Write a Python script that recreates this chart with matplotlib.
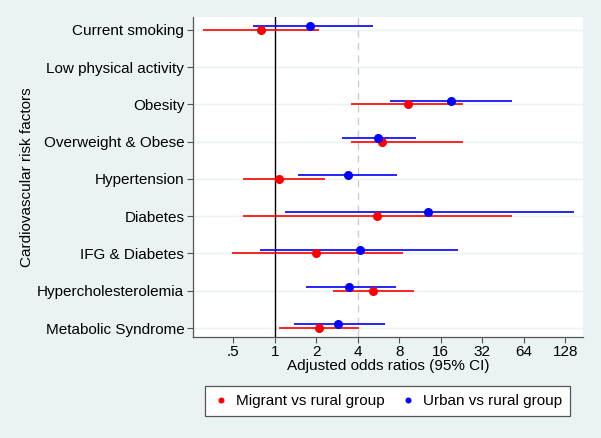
import numpy as np
import matplotlib
matplotlib.use("Agg")
import matplotlib.pyplot as plt

plt.rcParams['font.family'] = ['Liberation Sans', 'DejaVu Sans']

categories = ["Current smoking", "Low physical activity", "Obesity",
              "Overweight & Obese", "Hypertension", "Diabetes",
              "IFG & Diabetes", "Hypercholesterolemia", "Metabolic Syndrome"]

# Migrant vs rural group (NaN = not shown)
migrant_or = [0.79, np.nan, 9.2, 6.0, 1.08, 5.55, 1.98, 5.2, 2.08]
migrant_lo = [0.30, np.nan, 3.56, 3.56, 0.59, 0.59, 0.49, 2.66, 1.08]
migrant_hi = [2.1, np.nan, 23.3, 23.3, 2.32, 52.4, 8.5, 10.3, 4.1]

# Urban vs rural group
urban_or = [1.79, np.nan, 18.9, 5.6, 3.38, 12.9, 4.16, 3.46, 2.88]
urban_lo = [0.69, np.nan, 6.86, 3.06, 1.47, 1.18, 0.78, 1.69, 1.39]
urban_hi = [5.2, np.nan, 52.4, 10.6, 7.74, 149, 21.4, 7.55, 6.28]

xticks = [0.5, 1, 2, 4, 8, 16, 32, 64, 128]
xticklabels = [".5", "1", "2", "4", "8", "16", "32", "64", "128"]

bg = "#eaf2f3"
fs = 11
fig = plt.figure(figsize=(6.01, 4.38), dpi=100, facecolor=bg)
ax = fig.add_axes([0.3206, 0.2306, 0.6494, 0.7313])
ax.set_facecolor("white")

ypos = np.arange(len(categories))[::-1].astype(float)

for y in ypos:
    ax.axhline(y, color=bg, lw=1.0, zorder=0)

ax.axvline(1, color="black", lw=1.0, zorder=1)
ax.axvline(4, color="#cccccc", lw=1.0, ls=(0, (5, 4)), zorder=1)

m_or = np.array(migrant_or); m_lo = np.array(migrant_lo); m_hi = np.array(migrant_hi)
u_or = np.array(urban_or); u_lo = np.array(urban_lo); u_hi = np.array(urban_hi)

ax.hlines(ypos, m_lo, m_hi, color="#ff0000", lw=1.2, zorder=2)
ax.plot(m_or, ypos, "o", color="#ff0000", ms=5.5, zorder=3, label="Migrant vs rural group")
ax.hlines(ypos + 0.1, u_lo, u_hi, color="#0000ff", lw=1.2, zorder=2)
ax.plot(u_or, ypos + 0.1, "o", color="#0000ff", ms=5.5, zorder=3, label="Urban vs rural group")

ax.set_xscale("log", base=2)
ax.set_xlim(0.254, 172)
ax.set_ylim(-0.24, 8.35)
ax.set_xticks(xticks)
ax.set_xticklabels(xticklabels)
ax.minorticks_off()
ax.set_yticks(ypos)
ax.set_yticklabels(categories)
ax.tick_params(axis="both", labelsize=fs, length=4, color="#555555", pad=2)

for s in ["top", "right"]:
    ax.spines[s].set_visible(False)
for s in ["left", "bottom"]:
    ax.spines[s].set_color("#555555")
    ax.spines[s].set_linewidth(0.9)

ax.set_xlabel("Adjusted odds ratios (95% CI)", fontsize=fs, labelpad=0)
ax.set_ylabel("Cardiovascular risk factors", fontsize=fs, labelpad=2)

leg = fig.legend(loc="center", bbox_to_anchor=(0.6448, 0.0845), ncol=2,
                 fontsize=fs, markerscale=0.6, handletextpad=0.5,
                 columnspacing=1.0, handlelength=1.0, fancybox=False,
                 edgecolor="#555555", framealpha=1.0, borderpad=0.5)
leg.get_frame().set_linewidth(0.9)

fig.savefig("out.png", dpi=100, facecolor=bg)
